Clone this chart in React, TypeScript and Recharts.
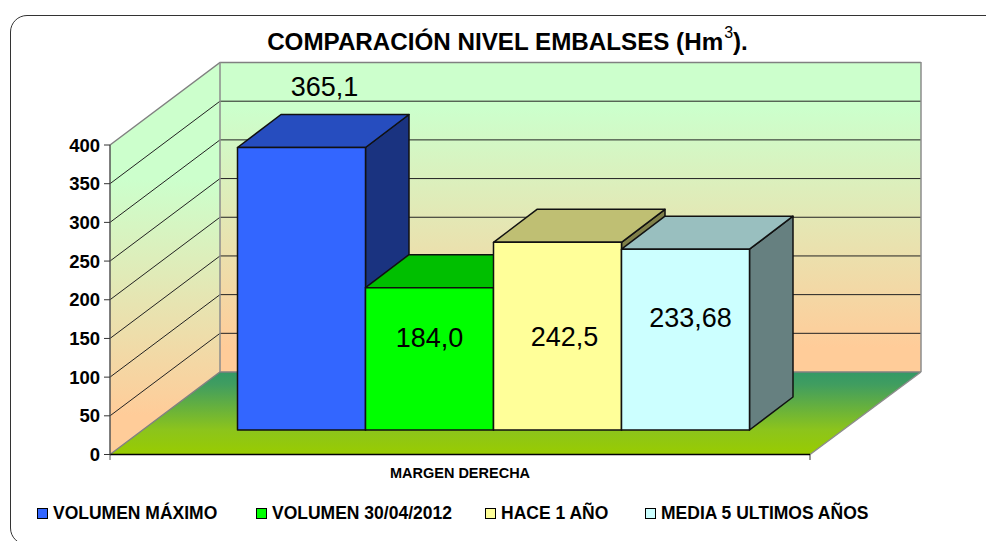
import { BarChart, Bar, XAxis, YAxis, CartesianGrid, Legend, LabelList } from 'recharts';

const categories = ['MARGEN DERECHA'];
const seriesNames = ['VOLUMEN MÁXIMO', 'VOLUMEN 30/04/2012', 'HACE 1 AÑO', 'MEDIA 5 ULTIMOS AÑOS'];
const seriesValues = [365.1, 184.0, 242.5, 233.68];
const valueLabels = ['365,1', '184,0', '242,5', '233,68'];
const yTicks = [0, 50, 100, 150, 200, 250, 300, 350, 400];

// front, top and side face of each box
const frontColors = ['#3366FF', '#00FF00', '#FFFF99', '#CCFFFF'];
const topColors = ['#264DBF', '#00BF00', '#BFBF73', '#99BFBF'];
const sideColors = ['#1A3380', '#008000', '#808049', '#668080'];

const labelOffsets = [
  { dx: 23, dy: -61 },
  { dx: 0, dy: 50 },
  { dx: 7, dy: 95 },
  { dx: 5, dy: 69 },
];
const legendLeft = [37, 256, 485, 645];

const data = categories.map((name) => {
  const row: Record<string, string | number> = { name };
  seriesNames.forEach((s, i) => { row[s] = seriesValues[i]; });
  return row;
});

const FONT = '"Liberation Sans", Arial, sans-serif';

// projection of the 3D box
const WALL_DX = 110;
const WALL_DY = -82.5;
const WALL_RIGHT = 111;
const BAR_SHIFT_X = 33.5;
const BAR_SHIFT_Y = -24.5;
const BOX_DX = 43.5;
const BOX_DY = -33;

const GridLine = (props: any) => {
  const { x1, x2, y1, index } = props;
  const last = index === yTicks.length - 1;
  const first = index === 0;
  const yTop = Math.min(y1, 145);
  const bx = x1 + WALL_DX;
  const bxr = x2 + WALL_RIGHT;
  const isEdge = y1 < 146 || y1 > 454;
  return (
    <g>
      {first && (
        <g>
          <polygon points={`${x1},454.5 ${bx},${454.5 + WALL_DY} ${bx},${yTop + WALL_DY} ${x1},${yTop}`} fill="url(#wallSide)" />
          <rect x={bx} y={yTop + WALL_DY} width={bxr - bx} height={309.5} fill="url(#wallBack)" />
          <polygon points={`${x1},454.5 ${x2},454.5 ${bxr},${454.5 + WALL_DY} ${bx},${454.5 + WALL_DY}`} fill="url(#floor)" />
        </g>
      )}
      <polyline
        points={`${x1},${y1} ${bx},${y1 + WALL_DY} ${bxr},${y1 + WALL_DY}`}
        fill="none"
        stroke={isEdge ? '#808080' : '#222'}
        strokeWidth={isEdge ? 1.5 : 1}
      />
      {last && (
        <g stroke="#8C8C8C" strokeWidth={1.5}>
          <line x1={bx} x2={bx} y1={62} y2={372} />
          <line x1={bxr} x2={bxr} y1={62} y2={372} />
          <line x1={x2} x2={bxr} y1={454.5} y2={372} />
          <line x1={x2} x2={x2} y1={454.5} y2={460} stroke="#333" strokeWidth={1} />
          <line x1={x1} x2={x1} y1={454.5} y2={460} stroke="#555" strokeWidth={1} />
        </g>
      )}
    </g>
  );
};

const BoxShape = (props: any) => {
  const { x, y, width, height, seriesIndex } = props;
  const l = x + BAR_SHIFT_X;
  const r = l + width;
  const t = y + BAR_SHIFT_Y;
  const b = t + height;
  return (
    <g stroke="#111" strokeWidth={1.5} strokeLinejoin="round">
      <polygon points={`${r},${t} ${r + BOX_DX},${t + BOX_DY} ${r + BOX_DX},${b + BOX_DY} ${r},${b}`} fill={sideColors[seriesIndex]} />
      <polygon points={`${l},${t} ${l + BOX_DX},${t + BOX_DY} ${r + BOX_DX},${t + BOX_DY} ${r},${t}`} fill={topColors[seriesIndex]} />
      <rect x={l} y={t} width={width} height={height} fill={frontColors[seriesIndex]} />
    </g>
  );
};

const BoxLabel = (props: any) => {
  const { x, y, width, seriesIndex } = props;
  const off = labelOffsets[seriesIndex];
  return (
    <text
      x={x + BAR_SHIFT_X + width / 2 + off.dx}
      y={y + BAR_SHIFT_Y + off.dy}
      textAnchor="middle"
      dominantBaseline="central"
      fontFamily={FONT}
      fontSize={27}
      fill="#000"
    >
      {valueLabels[seriesIndex]}
    </text>
  );
};

const LegendContent = () => (
  <div style={{ position: 'relative', height: 0 }}>
    {seriesNames.map((s, i) => (
      <div
        key={s}
        style={{
          position: 'absolute',
          left: legendLeft[i],
          top: 503,
          whiteSpace: 'nowrap',
          fontFamily: FONT,
          fontWeight: 'bold',
          fontSize: 17.5,
          lineHeight: '20px',
          color: '#000',
        }}
      >
        <span
          style={{
            display: 'inline-block',
            width: 9,
            height: 9,
            marginRight: 5,
            background: frontColors[i],
            border: '1px solid #000',
          }}
        />
        {s}
      </div>
    ))}
  </div>
);

export default function App() {
  return (
    <div style={{ position: 'absolute', left: 0, top: 0, width: 986, height: 541, overflow: 'hidden', background: '#fff' }}>
      <div
        style={{
          position: 'absolute',
          left: 10,
          top: 15,
          width: 1040,
          height: 530,
          boxSizing: 'border-box',
          border: '1.5px solid #333',
          borderRadius: 17,
        }}
      />
      <div
        style={{
          position: 'absolute',
          left: 0,
          width: 1015,
          top: 27,
          textAlign: 'center',
          fontFamily: FONT,
          fontWeight: 'bold',
          fontSize: 24.2,
          lineHeight: '30px',
          color: '#000',
        }}
      >
        COMPARACIÓN NIVEL EMBALSES (Hm
        <span style={{ fontSize: 16, fontWeight: 'normal', position: 'relative', top: -12, marginLeft: 1 }}>3</span>
        ).
      </div>
      <div style={{ position: 'absolute', left: 0, top: 0 }}>
        <BarChart
          width={986}
          height={541}
          data={data}
          margin={{ top: 145, right: 176, left: 0, bottom: 56.5 }}
          barSize={128}
          barGap={0}
        >
          <defs>
            <linearGradient id="wallBack" x1="0" y1="0" x2="0" y2="1">
              <stop offset="0" stopColor="#CCFFCC" />
              <stop offset="0.15" stopColor="#CCFFCC" />
              <stop offset="0.92" stopColor="#FFCC99" />
              <stop offset="1" stopColor="#FFCC99" />
            </linearGradient>
            <linearGradient id="wallSide" x1="0" y1="0" x2="0" y2="1">
              <stop offset="0" stopColor="#CCFFCC" />
              <stop offset="0.3" stopColor="#CCFFCC" />
              <stop offset="0.9" stopColor="#FFCC99" />
              <stop offset="1" stopColor="#FFCC99" />
            </linearGradient>
            <linearGradient id="floor" x1="0" y1="0" x2="0" y2="1">
              <stop offset="0" stopColor="#339966" />
              <stop offset="0.15" stopColor="#409D60" />
              <stop offset="0.7" stopColor="#8CC41C" />
              <stop offset="1" stopColor="#99CC00" />
            </linearGradient>
          </defs>
          <CartesianGrid vertical={false} horizontal={(p: any) => <GridLine key={p.key} {...p} />} />
          <XAxis
            dataKey="name"
            tickLine={false}
            axisLine={{ stroke: '#000', strokeWidth: 1.5 }}
            height={30}
            tickMargin={13}
            tickSize={0}
            tick={{ fontFamily: FONT, fontWeight: 'bold', fontSize: 14.5, fill: '#000' }}
          />
          <YAxis
            domain={[0, 400]}
            ticks={yTicks}
            width={110}
            interval={0}
            tickSize={6}
            tickMargin={4}
            axisLine={{ stroke: '#555', strokeWidth: 1.5 }}
            tickLine={{ stroke: '#333' }}
            tick={{ fontFamily: FONT, fontWeight: 'bold', fontSize: 18.5, fill: '#000' }}
          />
          <Legend content={<LegendContent />} wrapperStyle={{ left: 0, top: 0, width: 986 }} />
          {seriesNames.map((s, i) => (
            <Bar
              key={s}
              dataKey={s}
              isAnimationActive={false}
              shape={(p: any) => <BoxShape {...p} seriesIndex={i} />}
            >
              <LabelList content={(p: any) => <BoxLabel {...p} seriesIndex={i} />} />
            </Bar>
          ))}
        </BarChart>
      </div>
    </div>
  );
}
